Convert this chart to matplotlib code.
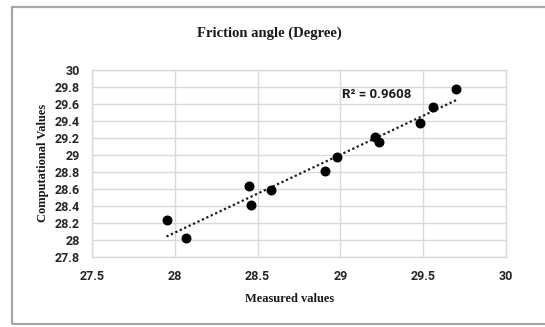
import numpy as np
import matplotlib
matplotlib.use("Agg")
import matplotlib.pyplot as plt
from matplotlib.patches import Rectangle

# Measured vs computed friction angle (degrees)
measured = [27.95, 28.07, 28.45, 28.46, 28.58, 28.91, 28.98, 29.21, 29.235, 29.48, 29.56, 29.70]
computed = [28.23, 28.02, 28.63, 28.41, 28.59, 28.81, 28.98, 29.21, 29.15, 29.38, 29.56, 29.78]
r_squared_label = "R² = 0.9608"

x_ticks = [27.5, 28, 28.5, 29, 29.5, 30]
x_tick_labels = ["27.5", "28", "28.5", "29", "29.5", "30"]
y_ticks = [27.8, 28, 28.2, 28.4, 28.6, 28.8, 29, 29.2, 29.4, 29.6, 29.8, 30]
y_tick_labels = ["27.8", "28", "28.2", "28.4", "28.6", "28.8", "29", "29.2", "29.4", "29.6", "29.8", "30"]

SANS = "Roboto"

fig = plt.figure(figsize=(5.45, 3.27), dpi=100)
fig.patch.set_facecolor("white")

# outer chart frame
fig.patches.append(Rectangle((12 / 545, 1 - 324 / 327), 1.2, (324 - 7) / 327,
                             transform=fig.transFigure, fill=False,
                             edgecolor="#a6a6a6", linewidth=1.6))

ax = fig.add_axes([92 / 545, 1 - 257 / 327, (506 - 92) / 545, (257 - 70) / 327])
ax.set_xlim(27.5, 30)
ax.set_ylim(27.8, 30)
ax.set_xticks(x_ticks)
ax.set_xticklabels(x_tick_labels)
ax.set_yticks(y_ticks)
ax.set_yticklabels(y_tick_labels)
for s in ax.spines.values():
    s.set_color("#d9d9d9")
    s.set_linewidth(1.0)
ax.grid(True, color="#d9d9d9", linewidth=1.0)
ax.set_axisbelow(True)
ax.tick_params(length=0, labelsize=9)
ax.tick_params(axis="y", pad=9)
ax.tick_params(axis="x", pad=9)
for lab in ax.get_xticklabels() + ax.get_yticklabels():
    lab.set_fontfamily(SANS)
    lab.set_fontweight("bold")
    lab.set_color("#262626")

# linear trendline over the measured range
xs = np.array(measured)
ys = np.array(computed)
slope, intercept = np.polyfit(xs, ys, 1)
xl = np.array([xs.min(), xs.max()])
ax.plot(xl, slope * xl + intercept, color="#1a1a1a", linestyle=(0, (1, 1.2)), linewidth=1.6)

ax.scatter(xs, ys, s=38, color="black", zorder=3)

ax.text(29.01, 29.71, r_squared_label, fontsize=9.5, fontfamily=SANS,
        fontweight="bold", color="#1a1a1a", va="center", ha="left")

fig.text(0.494, 1 - 33 / 327, "Friction angle (Degree)", ha="center", va="center",
         fontsize=10.5, fontfamily="Liberation Serif", fontweight="bold", color="#1a1a1a")
fig.text(290 / 545, 1 - 299 / 327, "Measured values", ha="center", va="center",
         fontsize=9, fontfamily="Liberation Serif", fontweight="bold", color="#1a1a1a")
fig.text(43 / 545, 1 - 163 / 327, "Computational Values", ha="center", va="center",
         rotation=90, fontsize=9, fontfamily="Liberation Serif", fontweight="bold",
         color="#1a1a1a")

fig.savefig("out.png", dpi=100)
